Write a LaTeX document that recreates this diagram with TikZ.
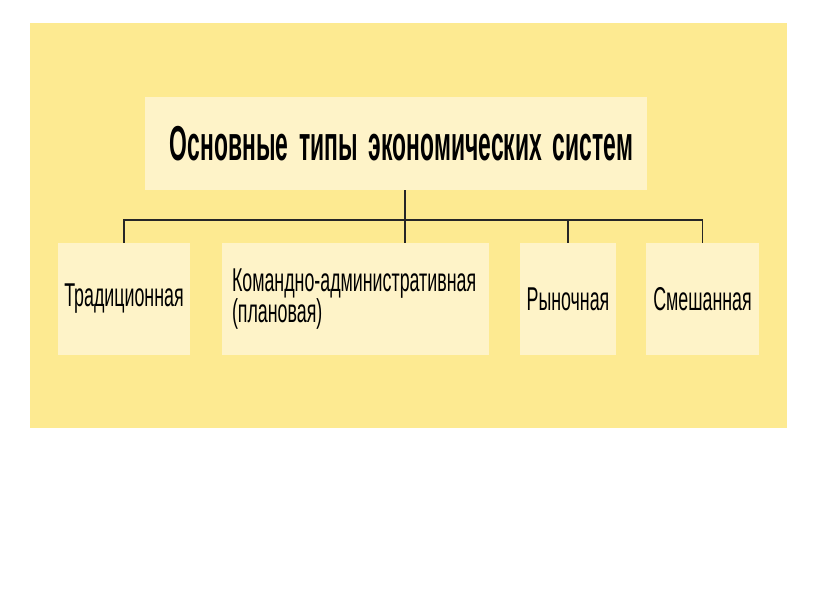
\documentclass[tikz,border=0pt]{standalone}
\usepackage{fontspec}
\setmainfont[FakeStretch=0.54]{Liberation Sans}
\newfontfamily\titlefont[FakeStretch=0.467]{Liberation Sans}
\newcommand{\tsp}{\hspace{11pt}}
\definecolor{bgyellow}{RGB}{253,234,145}
\definecolor{boxyellow}{RGB}{254,243,200}
\tikzset{
  typebox/.style={fill=boxyellow, minimum height=112pt, inner sep=0pt,
    font=\fontsize{33}{33}\selectfont},
  link/.style={line width=1.4pt, black!85}
}
\begin{document}
\begin{tikzpicture}[x=1pt, y=-1pt]
    \useasboundingbox (0, 0) rectangle (816, 613);
    \fill[white] (0, 0) rectangle (816, 613);
    \fill[bgyellow] (30, 23) rectangle (787, 428);
    % title
    \node[fill=boxyellow, minimum height=93pt, inner xsep=14pt, text width=474pt,
      align=right, font=\fontsize{49}{49}\titlefont\bfseries] (title) at (396, 143.5)
      {\mbox{Основные\tsp типы\tsp экономических\tsp систем}};
    % the four types
    \node[typebox, minimum width=132pt] (trad) at (124, 299) {Традиционная};
    \node[typebox, minimum width=267pt, text width=247pt, inner xsep=10pt, align=left,
      font=\fontsize{33}{30}\selectfont] (komand) at (355.5, 299)
      {Командно-административная\\(плановая)};
    \node[typebox, minimum width=96pt] (rynok) at (568, 299) {Рыночная};
    \node[typebox, minimum width=113pt] (smesh) at (702.5, 299) {Смешанная};
    % connectors
    \coordinate (hub) at (405, 220);
    \draw[link] (title.south -| hub) -- (komand.north -| hub);
    \draw[link] (trad.north) -- (trad.north |- hub) -- (smesh.north |- hub) -- (smesh.north);
    \draw[link] (rynok.north) -- (rynok.north |- hub);
\end{tikzpicture}
\end{document}
